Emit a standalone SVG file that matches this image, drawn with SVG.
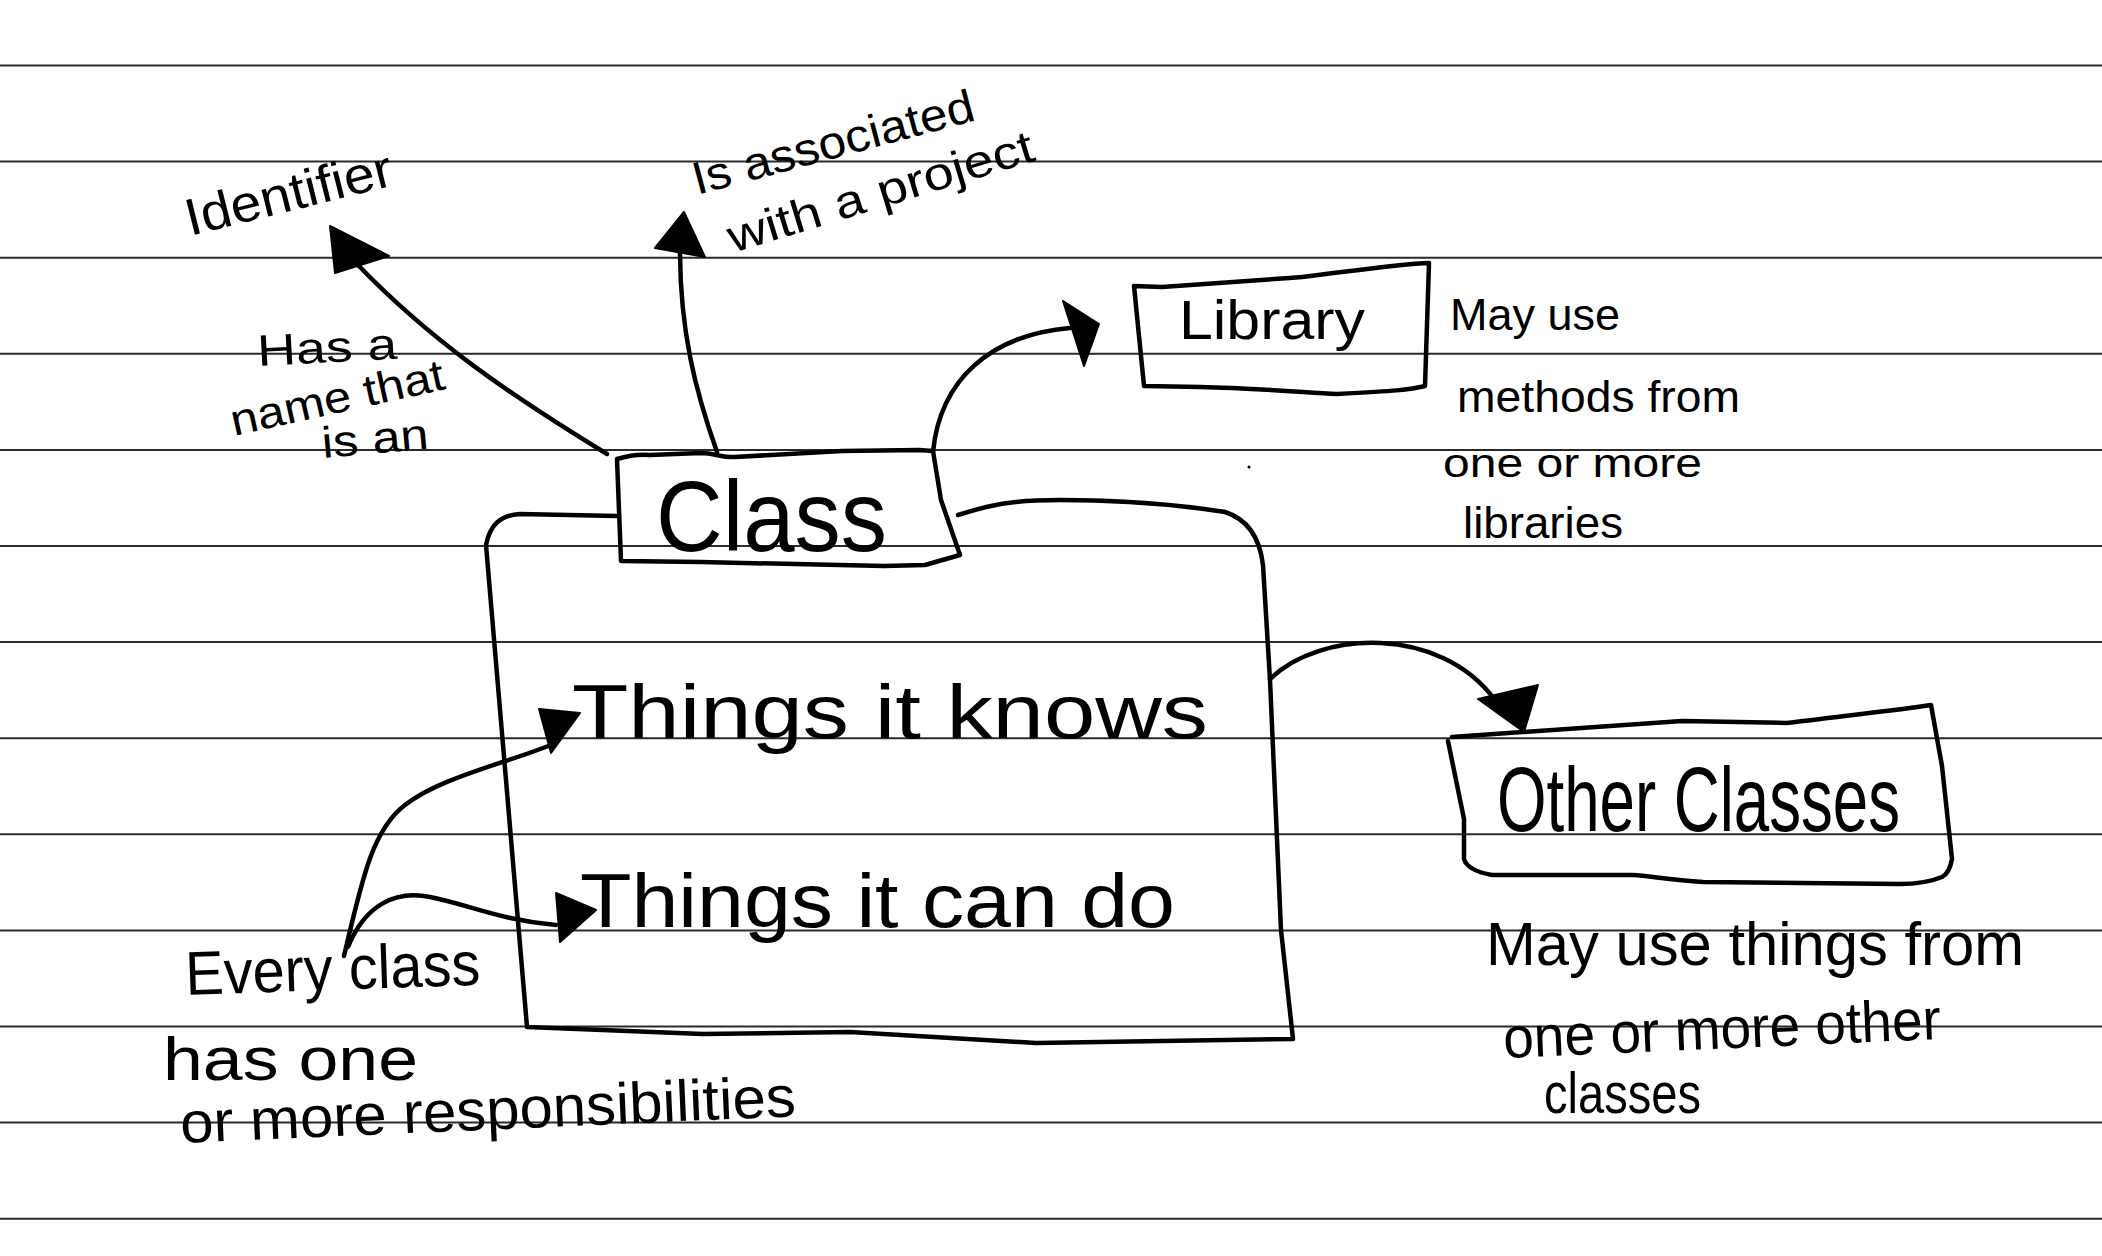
<svg xmlns="http://www.w3.org/2000/svg" width="2102" height="1256" viewBox="0 0 2102 1256">
<style>
.rule{stroke:#2a2a2a;stroke-width:2;fill:none}
.pen{stroke:#000;stroke-width:4.5;fill:none;stroke-linecap:round;stroke-linejoin:round}
.head{fill:#000;stroke:#000;stroke-width:2;stroke-linejoin:round}
.t{font-family:"Liberation Sans","DejaVu Sans",sans-serif;fill:#000}
</style>
<rect x="0" y="0" width="2102" height="1256" fill="#fff"/>
<g id="ruled-lines">
<line class="rule" x1="0" y1="65.5" x2="2102" y2="65.5"/>
<line class="rule" x1="0" y1="161.6" x2="2102" y2="161.6"/>
<line class="rule" x1="0" y1="257.7" x2="2102" y2="257.7"/>
<line class="rule" x1="0" y1="353.8" x2="2102" y2="353.8"/>
<line class="rule" x1="0" y1="449.9" x2="2102" y2="449.9"/>
<line class="rule" x1="0" y1="546" x2="2102" y2="546"/>
<line class="rule" x1="0" y1="642.1" x2="2102" y2="642.1"/>
<line class="rule" x1="0" y1="738.2" x2="2102" y2="738.2"/>
<line class="rule" x1="0" y1="834.3" x2="2102" y2="834.3"/>
<line class="rule" x1="0" y1="930.4" x2="2102" y2="930.4"/>
<line class="rule" x1="0" y1="1026.5" x2="2102" y2="1026.5"/>
<line class="rule" x1="0" y1="1122.6" x2="2102" y2="1122.6"/>
<line class="rule" x1="0" y1="1218.7" x2="2102" y2="1218.7"/>
</g>
<g id="class">
<path class="pen" d="M617 516 L520 514 C500 515 490 525 486 545 L527 1027 L703 1034 L850 1032 L1036 1043 L1293 1039 L1281 930 L1270 680 L1263 565 C1260 540 1250 520 1225 512 C1180 505 1120 500 1060 500 C1010 500 990 505 958 515"/>
<path class="pen" d="M617 459 C630 455 640 454 650 455 L701 453 C715 453 722 458 735 457 L842 451 L919 450 L933 451 L941 500 L960 555 L925 565 L884 566 L701 562 L621 561 Z"/>
<text class="t" x="656" y="551" font-size="100" textLength="231" lengthAdjust="spacingAndGlyphs">Class</text>
</g>
<g id="things-it-knows">
<text class="t" x="572" y="738" font-size="76" textLength="636" lengthAdjust="spacingAndGlyphs">Things it knows</text>
</g>
<g id="things-it-can-do">
<text class="t" x="580" y="927" font-size="76" textLength="595" lengthAdjust="spacingAndGlyphs">Things it can do</text>
</g>
<g id="identifier">
<text class="t" transform="translate(190,236) rotate(-14)" font-size="52" textLength="212" lengthAdjust="spacingAndGlyphs">Identifier</text>
</g>
<g id="name-note">
<text class="t" transform="translate(258,366) rotate(-3)" font-size="44" textLength="140" lengthAdjust="spacingAndGlyphs">Has a</text>
<text class="t" transform="translate(234,436) rotate(-12.5)" font-size="44" textLength="218" lengthAdjust="spacingAndGlyphs">name that</text>
<text class="t" transform="translate(323,458) rotate(-5)" font-size="44" textLength="107" lengthAdjust="spacingAndGlyphs">is an</text>
</g>
<g id="project-note">
<text class="t" transform="translate(697,195) rotate(-15)" font-size="46" textLength="290" lengthAdjust="spacingAndGlyphs">Is associated</text>
<text class="t" transform="translate(733,253) rotate(-17)" font-size="46" textLength="318" lengthAdjust="spacingAndGlyphs">with a project</text>
</g>
<g id="library">
<path class="pen" d="M1134 286 L1162 287 C1220 283 1260 280 1302 277 C1360 270 1400 264 1429 263 L1425 386 C1410 390 1394 391 1337 394 C1300 392 1253 388 1200 387 L1144 386 Z"/>
<text class="t" x="1179" y="339" font-size="56" textLength="186" lengthAdjust="spacingAndGlyphs">Library</text>
</g>
<g id="library-note">
<text class="t" x="1450" y="330" font-size="44" textLength="170" lengthAdjust="spacingAndGlyphs">May use</text>
<text class="t" x="1457" y="412" font-size="44" textLength="283" lengthAdjust="spacingAndGlyphs">methods from</text>
<text class="t" x="1443" y="477" font-size="40" textLength="259" lengthAdjust="spacingAndGlyphs">one or more</text>
<text class="t" x="1463" y="538" font-size="44" textLength="160" lengthAdjust="spacingAndGlyphs">libraries</text>
</g>
<g id="other-classes">
<path class="pen" d="M1452 737 C1550 730 1620 725 1682 721 L1787 723 C1850 715 1900 710 1931 705 L1942 766 L1952 859 C1950 870 1946 875 1942 877 C1930 882 1914 884 1900 884 L1703 882 C1670 880 1650 876 1633 875 L1492 875 C1475 872 1466 866 1464 859 L1464 819 L1448 741"/>
<text class="t" x="1497" y="831" font-size="90" textLength="403" lengthAdjust="spacingAndGlyphs">Other Classes</text>
</g>
<g id="other-classes-note">
<text class="t" x="1486" y="965" font-size="62" textLength="538" lengthAdjust="spacingAndGlyphs">May use things from</text>
<text class="t" transform="translate(1504,1058) rotate(-2.5)" font-size="58" textLength="438" lengthAdjust="spacingAndGlyphs">one or more other</text>
<text class="t" x="1544" y="1113" font-size="58" textLength="157" lengthAdjust="spacingAndGlyphs">classes</text>
</g>
<g id="every-class-note">
<text class="t" transform="translate(186,995) rotate(-2)" font-size="62" textLength="295" lengthAdjust="spacingAndGlyphs">Every class</text>
<text class="t" x="163" y="1080" font-size="62" textLength="255" lengthAdjust="spacingAndGlyphs">has one</text>
<text class="t" transform="translate(181,1143) rotate(-2.5)" font-size="58" textLength="616" lengthAdjust="spacingAndGlyphs">or more responsibilities</text>
</g>
<g id="connectors">
<path class="pen" d="M607 454 C510 395 430 340 357 264"/>
<polygon class="head" points="330,226 389,256 335,273"/>
<path class="pen" d="M717 452 C695 390 680 330 680 250"/>
<polygon class="head" points="684,212 655,248 705,257"/>
<path class="pen" d="M933 452 C940 380 990 335 1070 328"/>
<polygon class="head" points="1063,301 1099,324 1084,366"/>
<path class="pen" d="M1270 679 C1320 630 1440 625 1495 700"/>
<polygon class="head" points="1478,699 1538,685 1524,732"/>
<path class="pen" d="M344 956 C362 880 372 830 405 805 C440 778 500 765 551 745"/>
<polygon class="head" points="539,709 580,713 551,753"/>
<path class="pen" d="M348 947 C365 905 395 890 430 897 C470 905 500 920 556 925"/>
<polygon class="head" points="556,893 596,910 560,942"/>
<circle cx="1249" cy="467" r="1.5" fill="#000"/>
</g>
</svg>
